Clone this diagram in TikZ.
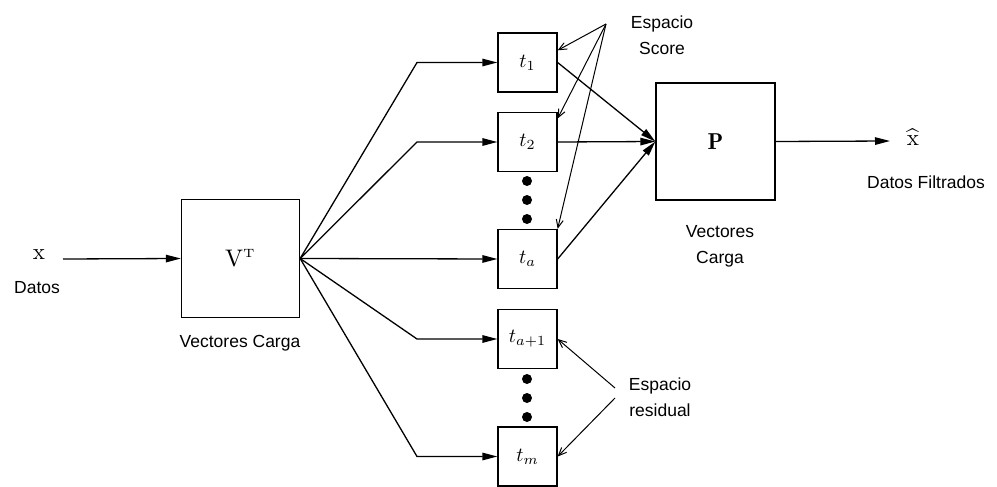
\documentclass[tikz,border=0pt]{standalone}
\usepackage{fontspec}
\newfontfamily\lab{Liberation Sans}
\usetikzlibrary{arrows.meta}
% math labels are set at 10pt and enlarged uniformly
\newcommand{\bigmath}[2]{\scalebox{#1}{$#2$}}
\begin{document}
\begin{tikzpicture}[x=1pt,y=-1pt,
  tbox/.style={draw,line width=1.3pt,inner sep=0pt,minimum width=59pt,minimum height=59pt},
  bigbox/.style={draw,line width=1.3pt,inner sep=0pt,minimum width=118pt,minimum height=118pt},
  txt/.style={font=\lab\fontsize{17.5}{26}\selectfont,align=center,inner sep=0pt},
  sym/.style={inner sep=0pt},
  arr/.style={-{Triangle[length=15pt,width=7.5pt]},line width=1.3pt},
  ptr/.style={-{Straight Barb[length=8pt,width=7pt]},line width=1pt},
  dot/.style={circle,fill=black,inner sep=0pt,minimum size=10pt}]
\useasboundingbox (0,0) rectangle (997,487);

% main blocks
\node[bigbox] (vt) at (240.5,258.5) {\bigmath{2.4}{\mathrm{V}^{\scriptscriptstyle\mathrm{T}}}};
\node[bigbox,minimum width=119pt,minimum height=117pt] (p) at (715.5,141.5) {\bigmath{2.3}{\mathbf{P}}};

% score and residual components
\node[tbox] (t1)  at (527.5,62.5)  {\bigmath{2}{t_1}};
\node[tbox] (t2)  at (527.5,142)   {\bigmath{2}{t_2}};
\node[tbox] (ta)  at (527.5,259)   {\bigmath{2}{t_a}};
\node[tbox] (ta1) at (527.5,339)   {\bigmath{2}{t_{a+1}}};
\node[tbox] (tm)  at (527.5,456.5) {\bigmath{2}{t_m}};

\node[dot] (d1) at (527,181) {};
\node[dot] (d2) at (527,200) {};
\node[dot] (d3) at (527,219) {};
\node[dot] (d4) at (527,379) {};
\node[dot] (d5) at (527,398) {};
\node[dot] (d6) at (527,417) {};

% input and output
\node[sym] (xin) at (39,255) {\bigmath{2.3}{\mathrm{x}}};
\node[txt] (datos) at (37,288) {Datos};
\coordinate (xa) at (63,259);
\draw[arr] (xa) -- (vt.west);
\node[txt] (vclab) at (240,343) {Vectores Carga};

\coordinate (xb) at (890,141);
\draw[arr] (p.east) -- (xb);
\node[sym] (xhat) at (913,137) {\bigmath{2.3}{\widehat{\mathrm{x}}}};
\node[txt] (dflab) at (926,182) {Datos Filtrados};
\node[txt] (pclab) at (720,246) {Vectores\\Carga};

% projection fan
\coordinate (b1) at (417,62.5);
\coordinate (b2) at (417,142);
\coordinate (b4) at (417,339);
\coordinate (b5) at (417,456.5);
\draw[arr] (vt.east) -- (b1) -- (t1.west);
\draw[arr] (vt.east) -- (b2) -- (t2.west);
\draw[arr] (vt.east) -- (ta.west);
\draw[arr] (vt.east) -- (b4) -- (ta1.west);
\draw[arr] (vt.east) -- (b5) -- (tm.west);

% reconstruction
\draw[arr] (t1.east) -- (p.west);
\draw[arr] (t2.east) -- (p.west);
\draw[arr] (ta.east) -- (p.west);

% subspace labels
\node[txt] (esc) at (662,35) {Espacio\\Score};
\coordinate (es) at (606,24);
\draw[ptr] (es) -- (t1.22);
\draw[ptr] (es) -- (t2.38);
\draw[ptr] (es) -- (ta.north east);

\node[txt] (eres) at (660,397) {Espacio\\residual};
\coordinate (er1) at (615,388);
\coordinate (er2) at (615,398);
\draw[ptr] (er1) -- (ta1.east);
\draw[ptr] (er2) -- (tm.east);
\end{tikzpicture}
\end{document}
